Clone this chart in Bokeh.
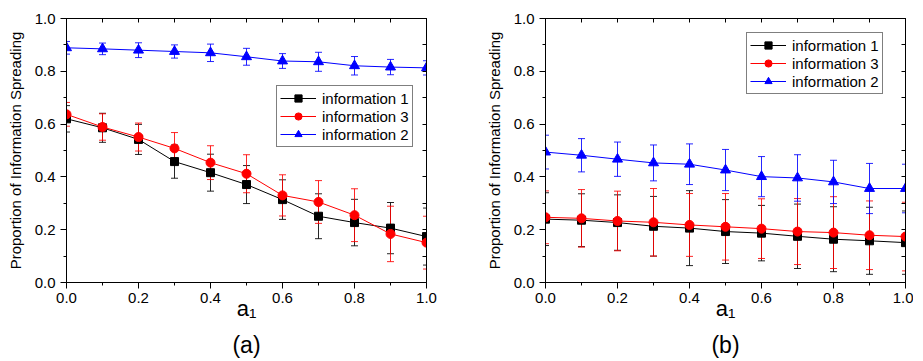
from bokeh.plotting import figure
from bokeh.layouts import row
from bokeh.models import (ColumnDataSource, Whisker, TeeHead, Legend, LegendItem,
                          FixedTicker, LinearAxis, Range1d, PrintfTickFormatter, Title)
from bokeh.embed import file_html
from bokeh.resources import INLINE

# ---------------- data ----------------
a1_values = [0.0, 0.1, 0.2, 0.3, 0.4, 0.5, 0.6, 0.7, 0.8, 0.9, 1.0]
series_labels = ["information 1", "information 3", "information 2"]
panel_titles = ["(a)", "(b)"]
y_title = "Proportion of Information Spreading"
x_title = "a\u2081"

a_info1 = [0.620, 0.586, 0.542, 0.458, 0.416, 0.371, 0.314, 0.251, 0.227, 0.206, 0.174]
a_info1_err = [0.050, 0.055, 0.057, 0.063, 0.070, 0.072, 0.075, 0.085, 0.088, 0.097, 0.108]
a_info3 = [0.637, 0.589, 0.551, 0.508, 0.454, 0.412, 0.330, 0.305, 0.255, 0.184, 0.151]
a_info3_err = [0.045, 0.050, 0.053, 0.060, 0.064, 0.072, 0.078, 0.081, 0.100, 0.105, 0.100]
a_info2 = [0.889, 0.885, 0.880, 0.875, 0.870, 0.855, 0.839, 0.836, 0.821, 0.816, 0.813]
a_info2_err = [0.024, 0.022, 0.028, 0.025, 0.033, 0.032, 0.028, 0.036, 0.035, 0.029, 0.027]

b_info1 = [0.240, 0.236, 0.227, 0.213, 0.206, 0.193, 0.187, 0.175, 0.164, 0.158, 0.151]
b_info1_err = [0.100, 0.100, 0.105, 0.113, 0.142, 0.121, 0.105, 0.122, 0.123, 0.127, 0.120]
b_info3 = [0.247, 0.243, 0.233, 0.228, 0.218, 0.211, 0.204, 0.193, 0.189, 0.179, 0.174]
b_info3_err = [0.100, 0.109, 0.113, 0.128, 0.119, 0.126, 0.113, 0.125, 0.136, 0.130, 0.130]
b_info2 = [0.494, 0.482, 0.467, 0.453, 0.448, 0.426, 0.401, 0.396, 0.381, 0.356, 0.356]
b_info2_err = [0.064, 0.063, 0.065, 0.068, 0.077, 0.078, 0.076, 0.088, 0.082, 0.095, 0.092]

major_ticks = [0.0, 0.2, 0.4, 0.6, 0.8, 1.0]
minor_ticks = [0.1, 0.3, 0.5, 0.7, 0.9]
all_ticks = [0.0, 0.1, 0.2, 0.3, 0.4, 0.5, 0.6, 0.7, 0.8, 0.9, 1.0]

FONT = "Liberation Sans"
COLORS = ["#000000", "#FF0000", "#0000FF"]
MARKERS = ["square", "circle", "triangle"]
SIZES = [8, 9, 10]


def make_panel(series, errs, title, border_left, width, legend_loc):
    p = figure(width=width, height=352, output_backend="svg", toolbar_location=None,
               x_range=Range1d(0, 1.0), y_range=Range1d(0, 1.0),
               min_border_left=border_left, min_border_top=18,
               min_border_bottom=10, min_border_right=width - border_left - 360,
               background_fill_color="white", border_fill_color="white",
               outline_line_color="black")
    p.frame_width = 360
    p.frame_height = 264
    p.xgrid.visible = False
    p.ygrid.visible = False

    for ax in (p.xaxis[0], p.yaxis[0]):
        ax.ticker = FixedTicker(ticks=major_ticks, minor_ticks=minor_ticks)
        ax.formatter = PrintfTickFormatter(format="%.1f")
        ax.major_label_text_font = FONT
        ax.major_label_text_font_size = "15px"
        ax.major_label_text_color = "black"
        ax.axis_line_color = "black"
        ax.major_tick_line_color = "black"
        ax.minor_tick_line_color = "black"
        ax.major_tick_out = 6
        ax.major_tick_in = 0
        ax.minor_tick_out = 3
        ax.minor_tick_in = 0
        ax.axis_label_text_font = FONT
        ax.axis_label_text_font_style = "normal"
        ax.axis_label_text_color = "black"

    xa = p.xaxis[0]
    xa.major_label_standoff = 4
    xa.axis_label = x_title
    xa.axis_label_text_font_size = "22px"
    xa.axis_label_standoff = -10

    ya = p.yaxis[0]
    ya.major_label_standoff = 5
    ya.axis_label = y_title
    ya.axis_label_text_font_size = "15px"
    ya.axis_label_standoff = 8

    for side in ("right", "above"):
        ax = LinearAxis(ticker=FixedTicker(ticks=[], minor_ticks=all_ticks),
                        major_label_standoff=0,
                        major_tick_in=0, major_tick_out=0, minor_tick_in=4, minor_tick_out=0,
                        axis_line_color="black", major_tick_line_color="black",
                        minor_tick_line_color="black")
        p.add_layout(ax, side)

    p.add_layout(Title(text=title, align="center", text_font=FONT,
                       text_font_size="23px", text_font_style="normal",
                       text_color="black", standoff=12), "below")

    items = []
    for vals, err, col, mk, sz, lab in zip(series, errs, COLORS, MARKERS, SIZES, series_labels):
        src = ColumnDataSource(dict(x=a1_values, y=vals,
                                    upper=[v + e for v, e in zip(vals, err)],
                                    lower=[v - e for v, e in zip(vals, err)]))
        w = Whisker(base="x", upper="upper", lower="lower", source=src,
                    line_color=col, line_width=1, line_alpha=0.85,
                    upper_head=TeeHead(size=7, line_color=col, line_width=1, line_alpha=0.85),
                    lower_head=TeeHead(size=7, line_color=col, line_width=1, line_alpha=0.85))
        p.add_layout(w)
        lr = p.line("x", "y", source=src, line_color=col, line_width=1)
        sr = p.scatter("x", "y", source=src, marker=mk, size=sz,
                       fill_color=col, line_color=col)
        items.append(LegendItem(label=lab, renderers=[lr, sr]))

    leg = Legend(items=items, location=legend_loc, label_text_font=FONT,
                 label_text_font_size="15px", label_text_color="black",
                 glyph_width=36, glyph_height=18, label_height=18, spacing=0,
                 padding=3, margin=0, label_standoff=6,
                 border_line_color="black", border_line_width=1,
                 background_fill_color="white", background_fill_alpha=1)
    p.add_layout(leg, "center")
    return p


p1 = make_panel([a_info1, a_info3, a_info2], [a_info1_err, a_info3_err, a_info2_err],
                panel_titles[0], 66, 459, (210, 135))
p2 = make_panel([b_info1, b_info3, b_info2], [b_info1_err, b_info3_err, b_info2_err],
                panel_titles[1], 86, 454, (201, 188))

layout = row(p1, p2)
open("out.html", "w").write(file_html(layout, INLINE))
